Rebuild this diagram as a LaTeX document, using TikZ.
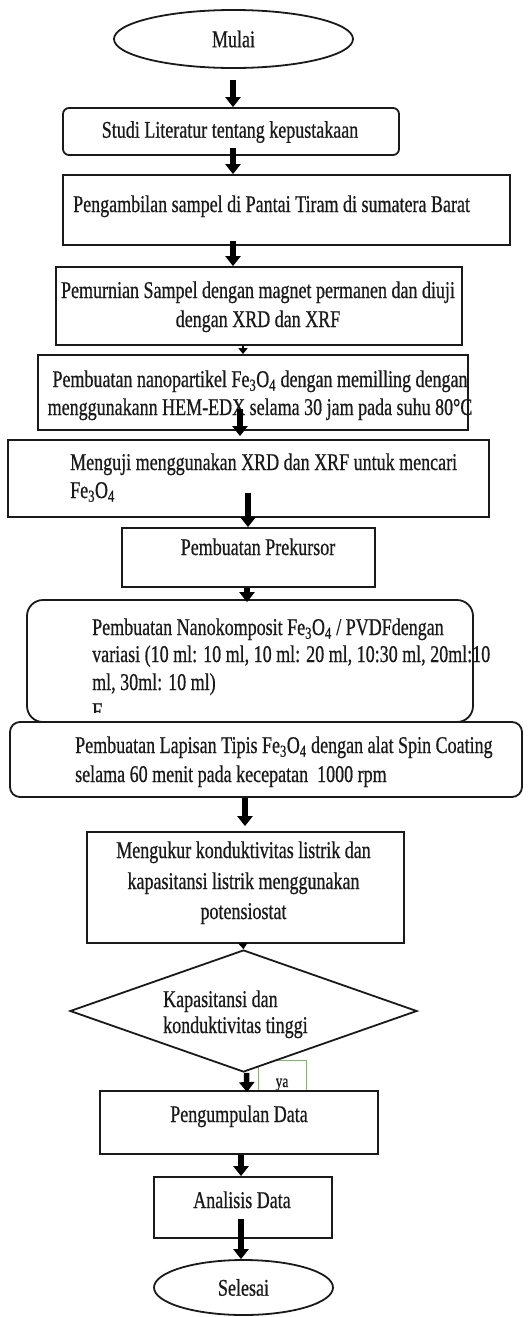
\documentclass[tikz,border=0pt]{standalone}
\usepackage{fontspec}
\setmainfont{Liberation Serif}[FakeStretch=0.75,FakeBold=0.6]
\usetikzlibrary{shapes.geometric,arrows.meta}
\definecolor{inkc}{HTML}{1A1A1A}
\definecolor{yagreen}{RGB}{140,175,130}
\tikzset{
  boxc/.style={draw=inkc, line width=1.8pt, fill=white, inner sep=0pt, rectangle},
  rbox/.style={boxc, rounded corners=#1},
  ellc/.style={draw=inkc, line width=1.8pt, fill=white, ellipse, inner sep=0pt, font=\fontsize{24}{28}\selectfont, text=inkc},
  txt/.style={font=\fontsize{24}{28}\selectfont, inner sep=0pt, text=inkc},
  smalltxt/.style={font=\fontsize{18}{20}\selectfont, inner sep=0pt, text=inkc},
  arr/.style={draw=black, line width=5.5pt, -{Triangle[width=15pt,length=10pt]}},
  arrsmall/.style={draw=black, line width=2pt, -{Triangle[width=9pt,length=6pt]}},
  yabox/.style={draw=yagreen, line width=0.9pt, fill=white, rectangle, inner sep=0pt}
}
\begin{document}
\begin{tikzpicture}[x=1pt,y=-1pt]
\fill[white] (0,0) rectangle (528,1317);
\useasboundingbox (0,0) rectangle (528,1317);

% start
\node[ellc, minimum width=239pt, minimum height=58pt] (mulai) at (233.5,39) {Mulai};

% boxes
\node[rbox=6pt, minimum width=336pt, minimum height=47pt] (studi) at (231,131.5) {};
\node[txt] (tstudi) at (230,132) {Studi Literatur tentang kepustakaan};

\node[boxc, minimum width=447pt, minimum height=70pt] (ambil) at (286.5,210) {};
\node[txt, anchor=base west] (tambil) at (73,212) {Pengambilan sampel di Pantai Tiram di sumatera Barat};

\node[boxc, minimum width=406pt, minimum height=78pt] (murni) at (259,306) {};
\node[txt, anchor=base] (tmurnia) at (258,298) {Pemurnian Sampel dengan magnet permanen dan diuji};
\node[txt, anchor=base] (tmurnib) at (258,327) {dengan XRD dan XRF};

\node[boxc, minimum width=430pt, minimum height=75pt] (nano) at (253,392.5) {};
\node[txt, anchor=base] (tnanoa) at (260,387) {Pembuatan nanopartikel Fe\textsubscript{3}O\textsubscript{4} dengan memilling dengan};
\node[txt, anchor=base] (tnanob) at (260,415) {menggunakann HEM-EDX selama 30 jam pada suhu 80°C};

\node[boxc, minimum width=481pt, minimum height=77pt] (uji) at (248.5,478.5) {};
\node[txt, anchor=base west] (tujia) at (70,470) {Menguji menggunakan XRD dan XRF untuk mencari};
\node[txt, anchor=base west] (tujib) at (70,498) {Fe\textsubscript{3}O\textsubscript{4}};

\node[boxc, minimum width=253pt, minimum height=59pt] (prek) at (248.5,557.5) {};
\node[txt, anchor=base] (tprek) at (258,555) {Pembuatan Prekursor};

\node[rbox=16pt, minimum width=446pt, minimum height=122pt] (komp) at (250,661) {};
\node[txt, anchor=base west] (tkompa) at (92,635) {Pembuatan Nanokomposit Fe\textsubscript{3}O\textsubscript{4} / PVDFdengan};
\node[txt, anchor=base west] (tkompb) at (92,662) {variasi (10 ml: 10 ml, 10 ml: 20 ml, 10:30 ml, 20ml:10};
\node[txt, anchor=base west] (tkompc) at (92,690) {ml, 30ml: 10 ml)};
\begin{scope}
\clip (0,695) rectangle (528,712);
\node[txt, anchor=base west] (tkompd) at (92,719) {F};
\end{scope}

\node[rbox=10pt, minimum width=512pt, minimum height=75pt] (lap) at (266,759.5) {};
\node[txt, anchor=base west] (tlapa) at (75,753) {Pembuatan Lapisan Tipis Fe\textsubscript{3}O\textsubscript{4} dengan alat Spin Coating};
\node[txt, anchor=base west] (tlapb) at (75,782) {selama 60 menit pada kecepatan\ \ 1000 rpm};

\node[boxc, minimum width=317pt, minimum height=111pt] (ukur) at (245.5,887.5) {};
\node[txt, anchor=base] (tukura) at (243.5,858) {Mengukur konduktivitas listrik dan};
\node[txt, anchor=base] (tukurb) at (243.5,889) {kapasitansi listrik menggunakan};
\node[txt, anchor=base] (tukurc) at (243.5,919) {potensiostat};

% ya label box (partly hidden behind the decision)
\node[yabox, minimum width=48pt, minimum height=31pt] (yab) at (282,1075.5) {};
\node[smalltxt, anchor=base] (tya) at (282,1087) {ya};

\node[draw=inkc, line width=1.8pt, fill=white, diamond, inner sep=0pt, minimum width=347pt, minimum height=122pt] (dia) at (243.5,1011) {};
\node[txt, anchor=base west] (tdiaa) at (163,1007) {Kapasitansi dan};
\node[txt, anchor=base west] (tdiab) at (163,1033) {konduktivitas tinggi};

\node[boxc, minimum width=278pt, minimum height=63pt] (kumpul) at (239,1122.5) {};
\node[txt, anchor=base] (tkumpul) at (239,1122) {Pengumpulan Data};

\node[boxc, minimum width=178pt, minimum height=61pt] (anal) at (243,1207.5) {};
\node[txt, anchor=base] (tanal) at (242,1208) {Analisis Data};

\node[ellc, minimum width=179pt, minimum height=55pt] (selesai) at (243.5,1287.5) {Selesai};

% connectors
\draw[arr] ([xshift=-0.5pt,yshift=-11pt]mulai.south) -- ([xshift=2pt]studi.north);
\draw[arr] ([xshift=2pt,yshift=8pt]studi.south) -- ([xshift=-53.5pt]ambil.north);
\draw[arr] ([xshift=-53.5pt,yshift=5pt]ambil.south) -- ([xshift=-26pt]murni.north);
\draw[arrsmall] ([xshift=-16pt]murni.south) -- ([xshift=-10pt]nano.north);
\draw[arr] ([xshift=-13pt,yshift=22pt]nano.south) -- ([xshift=-8.5pt,yshift=3pt]uji.north);
\draw[arr] ([xshift=-0.5pt,yshift=25pt]uji.south) -- ([xshift=-0.5pt]prek.north);
\draw[arr] ([xshift=-1.5pt]prek.south) -- ([xshift=-3pt,yshift=-3pt]komp.north);
\draw[arr] ([xshift=-21pt]lap.south) -- ([xshift=-0.5pt,yshift=5pt]ukur.north);
\draw[arrsmall] ([xshift=-2.5pt]ukur.south) -- (dia.north);
\draw[arr] ([xshift=3pt]dia.south) -- ([xshift=8pt,yshift=-2pt]kumpul.north);
\draw[arr] ([xshift=2pt]kumpul.south) -- ([xshift=-2pt]anal.north);
\draw[arr] ([xshift=-2pt,yshift=20pt]anal.south) -- ([xshift=-2.5pt]selesai.north);
\end{tikzpicture}
\end{document}
